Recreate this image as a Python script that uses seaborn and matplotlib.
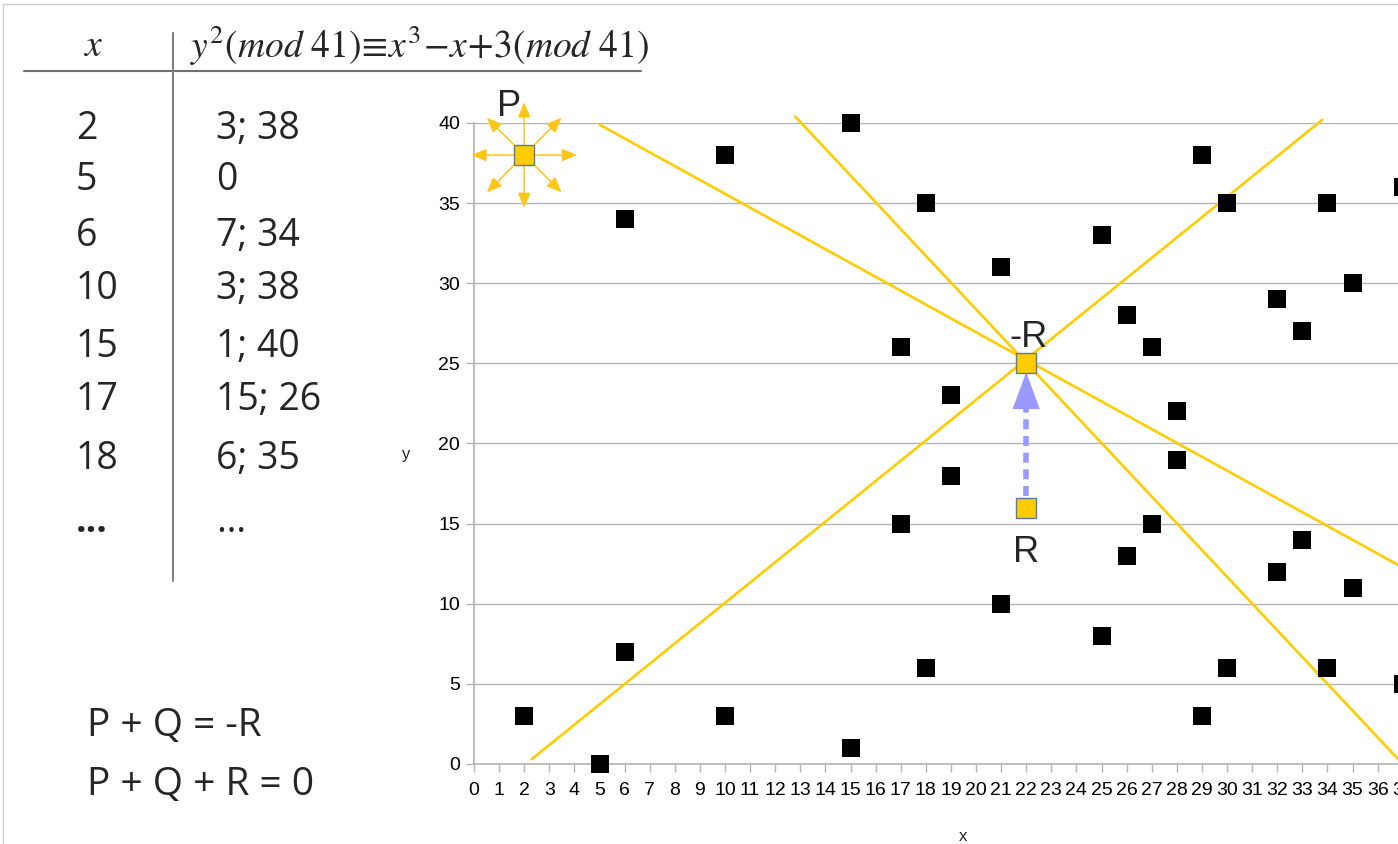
"""
Points of the curve y^2 = x^3 - x + 3 (mod 41) with the P + Q = -R construction.
"""

import matplotlib.pyplot as plt
import numpy as np
import seaborn as sns
from matplotlib.lines import Line2D

# Curve points (P, R and -R are drawn separately)
curve_x = [2, 5, 6, 6, 10, 10, 15, 15, 17, 17, 18, 18, 19, 19, 21, 21,
           25, 25, 26, 26, 27, 27, 28, 28, 29, 29, 30, 30, 32, 32, 33, 33,
           34, 34, 35, 35, 37, 37]
curve_y = [3, 0, 7, 34, 3, 38, 1, 40, 15, 26, 6, 35, 18, 23, 10, 31,
           8, 33, 13, 28, 15, 26, 19, 22, 3, 38, 6, 35, 12, 29, 14, 27,
           6, 35, 11, 30, 5, 36]

special_names = ['P', '-R', 'R']
special_x = [2, 22, 22]
special_y = [38, 25, 16]

# Yellow lines through -R (start / end points)
line_x0 = [2.3, 5.0, 12.8]
line_y0 = [0.3, 39.9, 40.4]
line_x1 = [33.8, 38.0, 37.0]
line_y1 = [40.2, 11.4, 0.0]

# Table on the left
table_x = ['2', '5', '6', '10', '15', '17', '18', '...']
table_y = ['3; 38', '0', '7; 34', '3; 38', '1; 40', '15; 26', '6; 35', '…']
table_rows_px = [129, 180, 236, 289, 347, 400, 459, 522]

W, H = 1398, 844


def fx(px):
    return px / W


def fy(py):
    return 1 - py / H


def main():
    sns.set_style('white')
    plt.rcParams['font.family'] = ['Liberation Sans', 'DejaVu Sans']
    plt.rcParams['mathtext.fontset'] = 'stix'

    fig = plt.figure(figsize=(W / 100, H / 100), dpi=100)
    # axes: x 0..39, left edge at px 474, one unit = 25.1 px (runs off the slide)
    ax = fig.add_axes([fx(474), fy(764), 39 * 25.1 / W, (764 - 123) / H])

    grey = '#b3b3b3'
    ax.set_xlim(0, 39)
    ax.set_ylim(0, 40)
    ax.set_xticks(range(0, 40))
    ax.set_yticks(range(0, 41, 5))
    ax.grid(axis='y', color=grey, lw=1)
    ax.set_axisbelow(True)
    for s in ['top', 'right']:
        ax.spines[s].set_visible(False)
    for s in ['left', 'bottom']:
        ax.spines[s].set_color(grey)
        ax.spines[s].set_linewidth(1.2)
    ax.tick_params(axis='both', direction='out', length=6, width=1,
                   color=grey, labelsize=14, labelcolor='black')
    ax.tick_params(axis='x', pad=7, bottom=True)
    ax.tick_params(axis='y', pad=4, left=True)

    ax.set_xlabel('x', fontsize=12)
    ax.set_ylabel('y', fontsize=12, rotation=0)
    ax.xaxis.set_label_coords(0.5, (764 - 829) / (764 - 123))
    ax.yaxis.set_label_coords((406 - 474) / (39 * 25.1), (764 - 462) / (764 - 123))

    # yellow lines through -R
    gold = '#ffcc00'
    for x0, y0, x1, y1 in zip(line_x0, line_y0, line_x1, line_y1):
        ax.plot([x0, x1], [y0, y1], color=gold, lw=1.9, clip_on=False, zorder=2)

    # curve points
    sns.scatterplot(x=curve_x, y=curve_y, marker='s', color='black', s=150,
                    linewidth=0, ax=ax, legend=False, clip_on=False, zorder=3)

    # arrows around P
    px, py = special_x[0], special_y[0]
    for ang in np.arange(0, 360, 45):
        dx = 38 * np.cos(np.radians(ang))
        dy = 38 * np.sin(np.radians(ang))
        ax.annotate('', xy=(px, py), xytext=(dx, dy), textcoords='offset points',
                    arrowprops=dict(arrowstyle='<|-,head_length=0.9,head_width=0.38',
                                    color='#ffc61a', lw=1.1, shrinkA=0, shrinkB=0),
                    annotation_clip=False, zorder=4)

    # R -> -R dashed arrow
    blue = '#9999ff'
    ax.plot([22, 22], [16.7, 22.3], color=blue, lw=4, ls=(0, (1.8, 1.2)), zorder=3)
    ax.annotate('', xy=(22, 24.45), xytext=(22, 22.1),
                arrowprops=dict(arrowstyle='-|>,head_length=1.9,head_width=0.7',
                                color=blue, lw=0, shrinkA=0, shrinkB=0,
                                mutation_scale=14), zorder=4)

    sns.scatterplot(x=special_x, y=special_y, marker='s', color=gold, s=200,
                    edgecolor='#5a7aa8', linewidth=1, ax=ax, legend=False,
                    clip_on=False, zorder=5)

    label_off = [(-0.6, 3.0), (0.1, 1.6), (0, -2.8)]
    for name, x, y, (ox, oy) in zip(special_names, special_x, special_y, label_off):
        ax.text(x + ox, y + oy, name, fontsize=26, ha='center', va='center', zorder=6)

    # table header
    fig.text(fx(93), fy(46), '$x$', fontsize=27, ha='center', va='center')
    fig.text(fx(190), fy(46),
             r'$y^2\left(mod\ 41\right)\!\equiv\! x^3\!-\!x\!+\!3\left(mod\ 41\right)$',
             fontsize=27, ha='left', va='center')
    fig.add_artist(Line2D([fx(24), fx(641)], [fy(71), fy(71)], color='#707070', lw=1.5))
    fig.add_artist(Line2D([fx(173), fx(173)], [fy(33), fy(581)], color='#808080', lw=1.5))

    # table body
    for tx, ty, row in zip(table_x, table_y, table_rows_px):
        weight = 'bold' if tx == '...' else 'normal'
        fig.text(fx(76), fy(row), tx, fontsize=27, family='Open Sans',
                 ha='left', va='center', weight=weight)
        fig.text(fx(216), fy(row), ty, fontsize=27, family='Open Sans',
                 ha='left', va='center')

    fig.text(fx(87), fy(726), 'P + Q = -R', fontsize=28, family='Open Sans',
             ha='left', va='center')
    fig.text(fx(87), fy(785), 'P + Q + R = 0', fontsize=28, family='Open Sans',
             ha='left', va='center')

    # slide frame
    fig.add_artist(Line2D([fx(3), fx(3)], [fy(4), 0], color='#cccccc', lw=1))
    fig.add_artist(Line2D([fx(3), 1], [fy(4), fy(4)], color='#cccccc', lw=1))

    fig.savefig('out.png', dpi=100)


if __name__ == '__main__':
    main()
